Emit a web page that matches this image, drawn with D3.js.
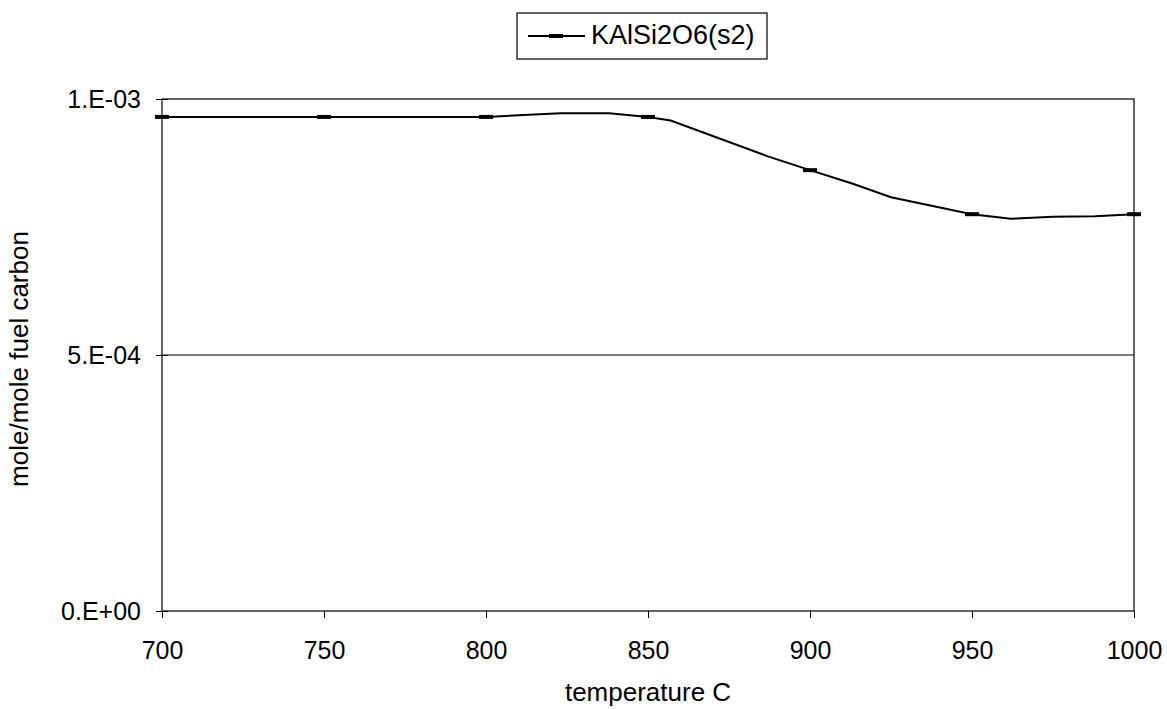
<!DOCTYPE html>
<html><head><meta charset="utf-8">
<script src="https://cdn.jsdelivr.net/npm/d3@7"></script>
<style>body{margin:0;background:#fff;} svg{display:block;font-family:Arial,"Liberation Sans",sans-serif;}</style>
</head><body>
<svg id="c" width="1167" height="709"></svg>
<script>
const temps  = [700, 750, 800, 823, 838, 850, 857, 887, 900, 913, 925, 950, 962, 975, 988, 1000];
const values = [0.000965, 0.000965, 0.000965, 0.000972, 0.000972, 0.000965, 0.000958, 0.000888, 0.000861, 0.000835, 0.000808, 0.000775, 0.000766, 0.000770, 0.000771, 0.000775];
const markerTemps = [700, 750, 800, 850, 900, 950, 1000];
const xTicks = [700, 750, 800, 850, 900, 950, 1000];
const yTicks = [0, 0.0005, 0.001];
const yTickLabels = ["0.E+00", "5.E-04", "1.E-03"];
const seriesName = "KAlSi2O6(s2)";
const xTitle = "temperature C";
const yTitle = "mole/mole fuel carbon";

const svg = d3.select("#c");
const L = 162, R = 1134, T = 99, B = 611;
const x = d3.scaleLinear().domain([700, 1000]).range([L, R]);
const y = d3.scaleLinear().domain([0, 0.001]).range([B, T]);
const data = temps.map((t, i) => ({t, v: values[i]}));
const FF = "Arial, 'Liberation Sans', sans-serif";

// gridline
svg.append("g").selectAll("line").data([0.0005]).join("line")
  .attr("x1", L).attr("x2", R).attr("y1", d => y(d)).attr("y2", d => y(d))
  .attr("stroke", "#000").attr("stroke-width", 1);
// frame
svg.append("rect").attr("x", L).attr("y", T).attr("width", R - L).attr("height", B - T)
  .attr("fill", "none").attr("stroke", "#000").attr("stroke-width", 1.2);

// axes
const xa = svg.append("g").attr("transform", `translate(0,${B})`)
  .call(d3.axisBottom(x).tickValues(xTicks).tickSize(7).tickPadding(23).tickFormat(d3.format("d")));
xa.select(".domain").remove();
xa.selectAll("text").attr("font-size", 25).attr("font-family", FF).attr("fill", "#000");
xa.selectAll("line").attr("stroke", "#000");

const ya = svg.append("g").attr("transform", `translate(${L},0)`)
  .call(d3.axisLeft(y).tickValues(yTicks).tickSize(6).tickPadding(15).tickFormat((d, i) => yTickLabels[i]));
ya.select(".domain").remove();
ya.selectAll("text").attr("font-size", 25).attr("font-family", FF).attr("fill", "#000");
ya.selectAll("line").attr("stroke", "#000").attr("x2", -6).attr("x1", 6);

// line
svg.append("path").datum(data)
  .attr("d", d3.line().x(d => x(d.t)).y(d => y(d.v)))
  .attr("fill", "none").attr("stroke", "#000").attr("stroke-width", 2);
// markers
svg.append("g").selectAll("rect").data(data.filter(d => markerTemps.includes(d.t))).join("rect")
  .attr("x", d => x(d.t) - 7).attr("y", d => y(d.v) - 2).attr("width", 14).attr("height", 4).attr("fill", "#000");

// axis titles
svg.append("text").attr("x", (L + R) / 2).attr("y", 701).attr("text-anchor", "middle")
  .attr("font-size", 26).attr("font-family", FF).text(xTitle);
svg.append("text").attr("transform", `translate(21,${(T + B) / 2 + 4}) rotate(-90)`).attr("text-anchor", "middle")
  .attr("dominant-baseline", "middle").attr("font-size", 26).attr("font-family", FF).text(yTitle);

// legend
const lg = svg.append("g");
lg.append("rect").attr("x", 517).attr("y", 13).attr("width", 250).attr("height", 46)
  .attr("fill", "#fff").attr("stroke", "#000").attr("stroke-width", 1.2);
lg.append("line").attr("x1", 528).attr("x2", 585).attr("y1", 36).attr("y2", 36).attr("stroke", "#000").attr("stroke-width", 2);
lg.append("rect").attr("x", 549).attr("y", 34).attr("width", 14).attr("height", 4).attr("fill", "#000");
lg.append("text").attr("x", 591).attr("y", 37).attr("dominant-baseline", "middle").attr("font-size", 27).attr("font-family", FF).text(seriesName);
</script>
</body></html>
